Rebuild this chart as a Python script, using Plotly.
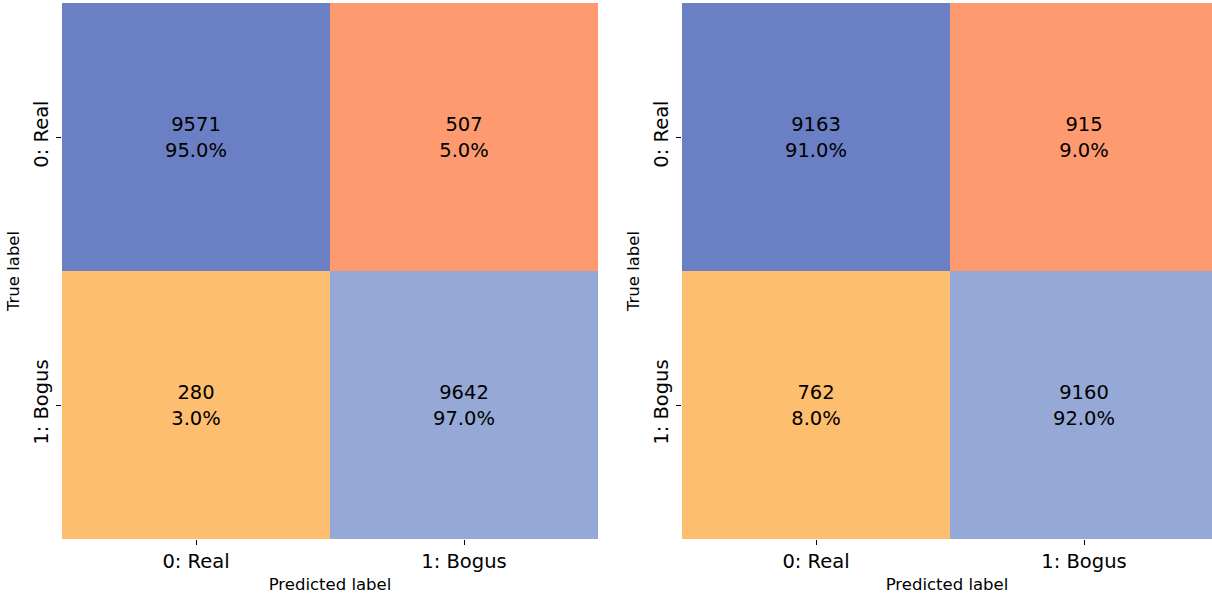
import plotly.graph_objects as go

labels = ["0: Real", "1: Bogus"]
counts_left = [[9571, 507], [280, 9642]]
pct_left = [[95.0, 5.0], [3.0, 97.0]]
counts_right = [[9163, 915], [762, 9160]]
pct_right = [[91.0, 9.0], [8.0, 92.0]]
cell_colors = ["#6b7fc4", "#fe9a6f", "#febe6f", "#96a9d6"]
color_index = [[0, 1], [2, 3]]

W, H = 1212, 597
fig = go.Figure()

colorscale = [[0.0, cell_colors[0]], [0.25, cell_colors[0]],
              [0.25, cell_colors[1]], [0.5, cell_colors[1]],
              [0.5, cell_colors[2]], [0.75, cell_colors[2]],
              [0.75, cell_colors[3]], [1.0, cell_colors[3]]]

def txt(c, p):
    return [[f"{c[i][j]}<br>{p[i][j]:.1f}%" for j in range(2)] for i in range(2)]

for k, (c, p) in enumerate([(counts_left, pct_left), (counts_right, pct_right)]):
    suf = "" if k == 0 else "2"
    fig.add_trace(go.Heatmap(
        z=color_index, x=[0, 1], y=[0, 1], text=txt(c, p),
        texttemplate="%{text}", textfont=dict(size=19.5, color="black", family="DejaVu Sans"),
        colorscale=colorscale, zmin=-0.5, zmax=3.5, showscale=False,
        hoverinfo="skip", xaxis="x" + suf, yaxis="y" + suf, xgap=0, ygap=0))

ytop = 1 - 3 / H
ybot = 1 - 539 / H
axfont = dict(family="DejaVu Sans", size=19.5, color="black")
titlefont = dict(family="DejaVu Sans", size=16.5, color="black")
common_x = dict(tickvals=[0, 1], ticktext=labels, tickfont=axfont, ticks="outside",
                ticklen=5, tickcolor="black", showgrid=False, zeroline=False,
                showline=False, fixedrange=True,
                title=dict(text="Predicted label", font=titlefont, standoff=6))
common_y = dict(tickvals=[0, 1], ticktext=labels, tickfont=axfont, ticks="outside",
                ticklen=5, tickcolor="black", showgrid=False, zeroline=False,
                range=[1.5, -0.5], tickangle=-90, showline=False, fixedrange=True,
                title=dict(text="True label", font=titlefont, standoff=6))

# right panel is clipped by the page edge in the reference (full width 536 px, visible 530 px)
right_visible = (W - 682) / 536 * 2

fig.update_layout(
    width=W, height=H, margin=dict(l=0, r=0, t=0, b=0),
    paper_bgcolor="white", plot_bgcolor="white",
    xaxis=dict(domain=[62 / W, 598 / W], anchor="y", range=[-0.5, 1.5], **common_x),
    yaxis=dict(domain=[ybot, ytop], anchor="x", **common_y),
    xaxis2=dict(domain=[682 / W, 1.0], anchor="y2", range=[-0.5, -0.5 + right_visible], **common_x),
    yaxis2=dict(domain=[ybot, ytop], anchor="x2", **common_y),
)

fig.write_html("out.html", config={"displayModeBar": False},
               post_script="document.body.style.margin='0';")
